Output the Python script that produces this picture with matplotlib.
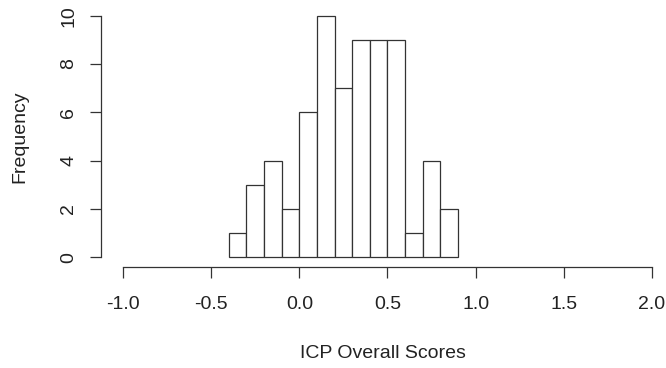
import matplotlib.pyplot as plt
import numpy as np

plt.rcParams['font.family'] = ['Liberation Sans', 'DejaVu Sans']

# histogram bins (width 0.1) and counts
bin_edges = np.round(np.arange(-0.4, 0.91, 0.1), 2)
counts = [1, 3, 4, 2, 6, 10, 7, 9, 9, 9, 1, 4, 2]
x_ticks = [-1.0, -0.5, 0.0, 0.5, 1.0, 1.5, 2.0]
y_ticks = [0, 2, 4, 6, 8, 10]

fig = plt.figure(figsize=(6.66, 3.68), dpi=100)
ax = fig.add_axes([101 / 666, 101 / 368, 564 / 666, 261 / 368])

ax.bar(bin_edges[:-1], counts, width=np.diff(bin_edges), align='edge',
       facecolor='white', edgecolor='#333333', linewidth=0.9)

ax.set_xlim(-1.125, 2.074)
ax.set_ylim(-0.4, 10.4)

for s in ['top', 'right']:
    ax.spines[s].set_visible(False)
ax.spines['left'].set_bounds(0, 10)
ax.spines['bottom'].set_bounds(-1, 2)
for s in ['left', 'bottom']:
    ax.spines[s].set_linewidth(0.9)
    ax.spines[s].set_color('#333333')

ax.set_xticks(x_ticks)
ax.set_xticklabels([f'{v:.1f}' for v in x_ticks])
ax.set_yticks(y_ticks)
ax.set_yticklabels([str(v) for v in y_ticks], rotation=90, va='center')
ax.tick_params(length=8, width=0.9, color='#333333', labelsize=14,
               labelcolor='#222222')
ax.tick_params(axis='x', pad=13)
ax.tick_params(axis='y', pad=9)

ax.set_xlabel('ICP Overall Scores', fontsize=14, color='#222222', labelpad=23)
ax.set_ylabel('Frequency', fontsize=14, color='#222222', labelpad=23)

fig.savefig('out.png', dpi=100)
